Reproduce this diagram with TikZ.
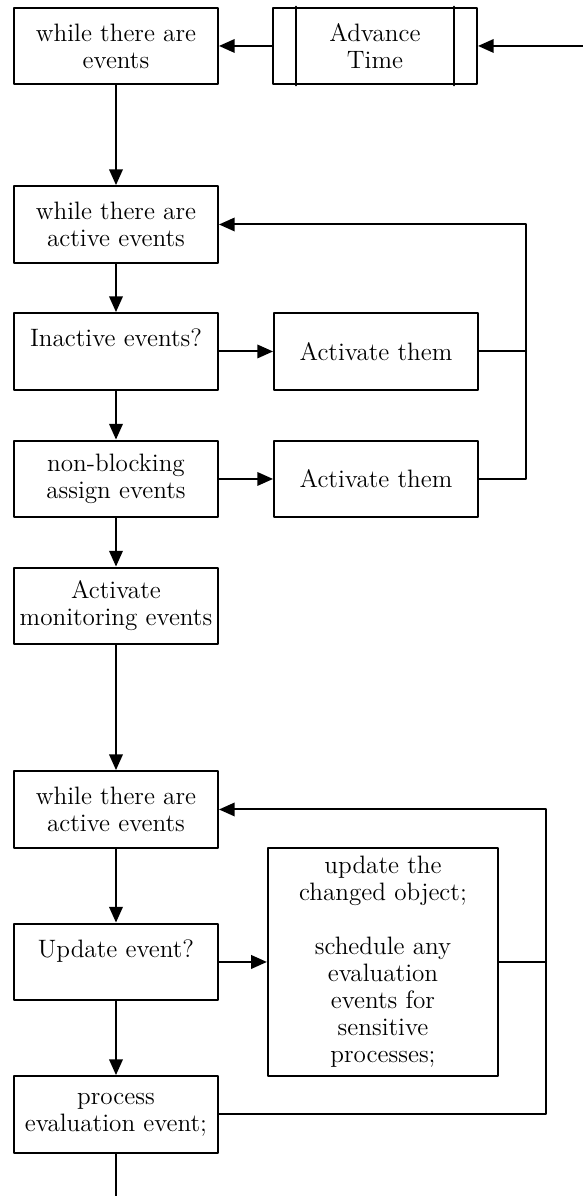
\documentclass[tikz,border=0pt]{standalone}
\usepackage{amsmath,amssymb}
\usepackage{tikz}
\usetikzlibrary{arrows.meta}

\begin{document}
\begin{tikzpicture}[line cap=round,line join=round,x=1.0cm,y=1.0cm,
	box/.style={draw,line width=0.9pt,align=center,inner xsep=1pt,minimum width=3.19cm,minimum height=1.2cm,font=\fontsize{11.2}{12}\selectfont},
	bigbox/.style={box,minimum width=3.6cm,minimum height=3.58cm},
	arrow/.style={-{Triangle[length=7pt,width=6pt]},line width=0.9pt},
	wire/.style={line width=0.9pt}]
	\useasboundingbox (0.,0.) rectangle (9.118,18.705);

	% top: advance time
	\node[box] (evt) at (1.814,17.986) {while there are\\events};
	\node[box] (adv) at (5.865,17.986) {Advance\\Time};
	\draw [wire] ([xshift=0.375cm]adv.north west) -- ([xshift=0.375cm]adv.south west);
	\draw [wire] ([xshift=-0.375cm]adv.north east) -- ([xshift=-0.375cm]adv.south east);
	\coordinate (start) at (9.118,17.986);

	% active region
	\node[box] (actv1) at (1.814,15.194) {while there are\\active events};
	\node[box] (inact) at (1.814,13.208) {Inactive events?\\ \mbox{}};
	\node[box] (act1) at (5.881,13.208) {Activate them};
	\node[box] (nba) at (1.814,11.214) {non-blocking\\assign events};
	\node[box] (act2) at (5.881,11.214) {Activate them};
	\node[box] (mon) at (1.814,9.228) {Activate\\monitoring events};
	\coordinate (loopA) at (8.227,15.194);

	% update / evaluation region
	\node[box] (actv2) at (1.814,6.045) {while there are\\active events};
	\node[box] (upd) at (1.814,3.660) {Update event?\\ \mbox{}};
	\node[bigbox] (sched) at (5.990,3.660) {update the\\changed object;\\[\baselineskip]schedule any\\evaluation\\events for\\sensitive\\processes;};
	\node[box] (proc) at (1.814,1.275) {process\\evaluation event;};
	\coordinate (loopB) at (8.539,6.045);
	\coordinate (stop) at (1.814,0.);

	\draw [arrow] (start) -- (adv);
	\draw [arrow] (adv) -- (evt);
	\draw [arrow] (evt) -- (actv1);
	\draw [arrow] (actv1) -- (inact);
	\draw [arrow] (inact) -- (act1);
	\draw [arrow] (inact) -- (nba);
	\draw [arrow] (nba) -- (act2);
	\draw [arrow] (nba) -- (mon);
	\draw [arrow] (act2.east) -| (loopA) -- (actv1.east);
	\draw [wire] (act1.east) -- (act1.east -| loopA);

	\draw [arrow] (mon) -- (actv2);
	\draw [arrow] (actv2) -- (upd);
	\draw [arrow] (upd.east) -- (sched.west |- upd.east);
	\draw [arrow] (upd) -- (proc);
	\draw [arrow] (proc.east) -| (loopB) -- (actv2.east);
	\draw [wire] (sched.east |- upd.east) -- (upd.east -| loopB);
	\draw [wire] (proc) -- (stop);
\end{tikzpicture}
\end{document}
